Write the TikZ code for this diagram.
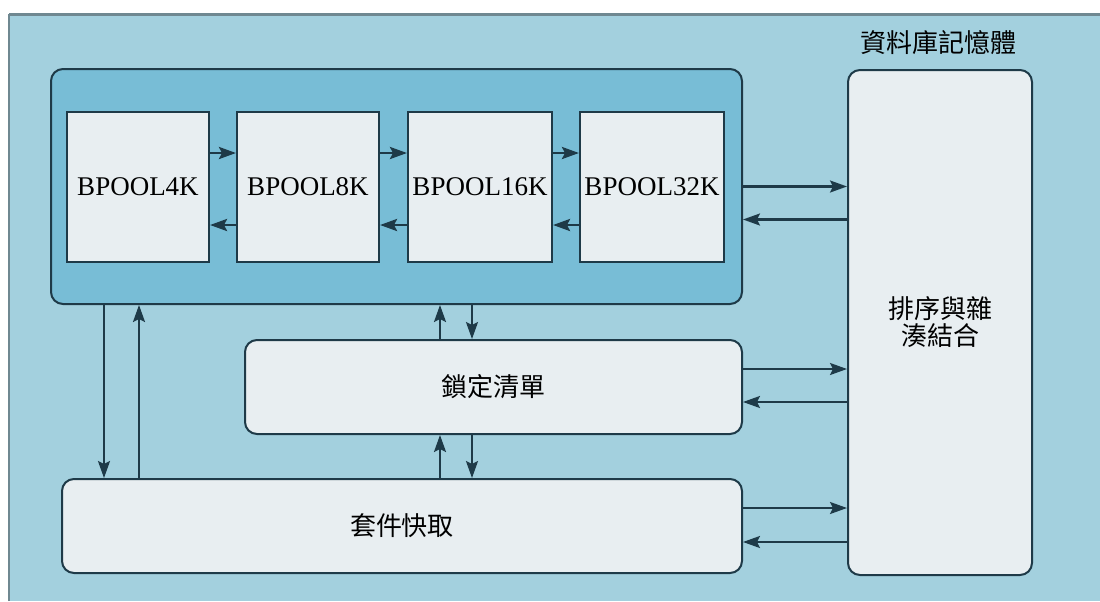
\documentclass[tikz,border=0pt]{standalone}
\usepackage{fontspec}
\setmainfont{Liberation Serif}
\newfontfamily\cjk{Noto Sans CJK TC}
\usetikzlibrary{arrows.meta}

\definecolor{bgblue}{HTML}{A3D0DE}
\definecolor{poolblue}{HTML}{78BDD6}
\definecolor{boxgrey}{HTML}{E8EEF1}
\definecolor{edge}{HTML}{1E3A48}
\definecolor{frame}{HTML}{6F8891}

\tikzset{
    bpool/.style={draw=edge, line width=1pt, fill=boxgrey, inner sep=0pt,
        minimum height=75pt, font=\fontsize{13.5}{15}\selectfont},
    unit/.style={draw=edge, line width=1pt, fill=boxgrey, rounded corners=6pt,
        inner sep=0pt, align=center, font=\cjk\fontsize{13}{13.5}\selectfont},
    link/.style={edge, line width=1.1pt, -{Stealth[length=8.5pt,width=6pt,inset=1.5pt]}}
}

\begin{document}
\begin{tikzpicture}[x=0.5pt, y=-0.5pt]
                    \useasboundingbox (0, 0) rectangle (1100, 601);
                    \fill[bgblue] (9, 14) rectangle (1100, 601);
                    \draw[frame, line width=0.8pt] (9, 601) -- (9, 14);
                    \draw[frame, line width=1.5pt] (9, 14) -- (1100, 14);

                    \node (group) at (396.5, 186.5) [draw=edge, line width=1pt, fill=poolblue, rounded corners=6pt, minimum width=345.5pt, minimum height=117.5pt] {};
                    \node (b4) at (138, 187) [bpool, minimum width=71pt] {BPOOL4K};
                    \node (b8) at (308, 187) [bpool, minimum width=71pt] {BPOOL8K};
                    \node (b16) at (480, 187) [bpool, minimum width=72pt] {BPOOL16K};
                    \node (b32) at (652, 187) [bpool, minimum width=72pt] {BPOOL32K};

                    \node (title) at (938, 43) [font=\cjk\fontsize{13}{15}\selectfont] {資料庫記憶體};
                    \node (sort) at (940, 322.5) [unit, minimum width=92pt, minimum height=252.5pt] {排序與雜\\湊結合};
                    \node (lock) at (493.5, 387) [unit, minimum width=248.5pt, minimum height=47pt] {鎖定清單};
                    \node (cache) at (402, 526) [unit, minimum width=340pt, minimum height=47pt] {套件快取};

                    \foreach \a/\b in {b4/b8, b8/b16, b16/b32} {
                        \draw[link, line width=1.4pt] ([yshift=17pt]\a.east) -- ([yshift=17pt]\b.west);
                        \draw[link, line width=1.4pt] ([yshift=-19pt]\b.west) -- ([yshift=-19pt]\a.east);
                    }

                    \coordinate (g1) at ([yshift=-16.5pt]group.east);
                    \draw[link] (group.east) -- (group.east -| sort.west);
                    \draw[link] (g1 -| sort.west) -- (g1);

                    \coordinate (l1) at ([yshift=9pt]lock.east);
                    \coordinate (l2) at ([yshift=-7.5pt]lock.east);
                    \draw[link] (l1) -- (l1 -| sort.west);
                    \draw[link] (l2 -| sort.west) -- (l2);

                    \coordinate (k1) at ([yshift=9pt]cache.east);
                    \coordinate (k2) at ([yshift=-8pt]cache.east);
                    \draw[link] (k1) -- (k1 -| sort.west);
                    \draw[link] (k2 -| sort.west) -- (k2);

                    \coordinate (c1) at ([xshift=27pt]group.south west);
                    \coordinate (c2) at ([xshift=44.5pt]group.south west);
                    \draw[link] (c1) -- (c1 |- cache.north);
                    \draw[link] (c2 |- cache.north) -- (c2);

                    \coordinate (m1) at ([xshift=-26.75pt]lock.north);
                    \coordinate (m2) at ([xshift=-10.75pt]lock.north);
                    \draw[link] (m1) -- (m1 |- group.south);
                    \draw[link] (m2 |- group.south) -- (m2);

                    \coordinate (m3) at ([xshift=-26.75pt]lock.south);
                    \coordinate (m4) at ([xshift=-10.75pt]lock.south);
                    \draw[link] (m3 |- cache.north) -- (m3);
                    \draw[link] (m4) -- (m4 |- cache.north);
                \end{tikzpicture}
\end{document}
